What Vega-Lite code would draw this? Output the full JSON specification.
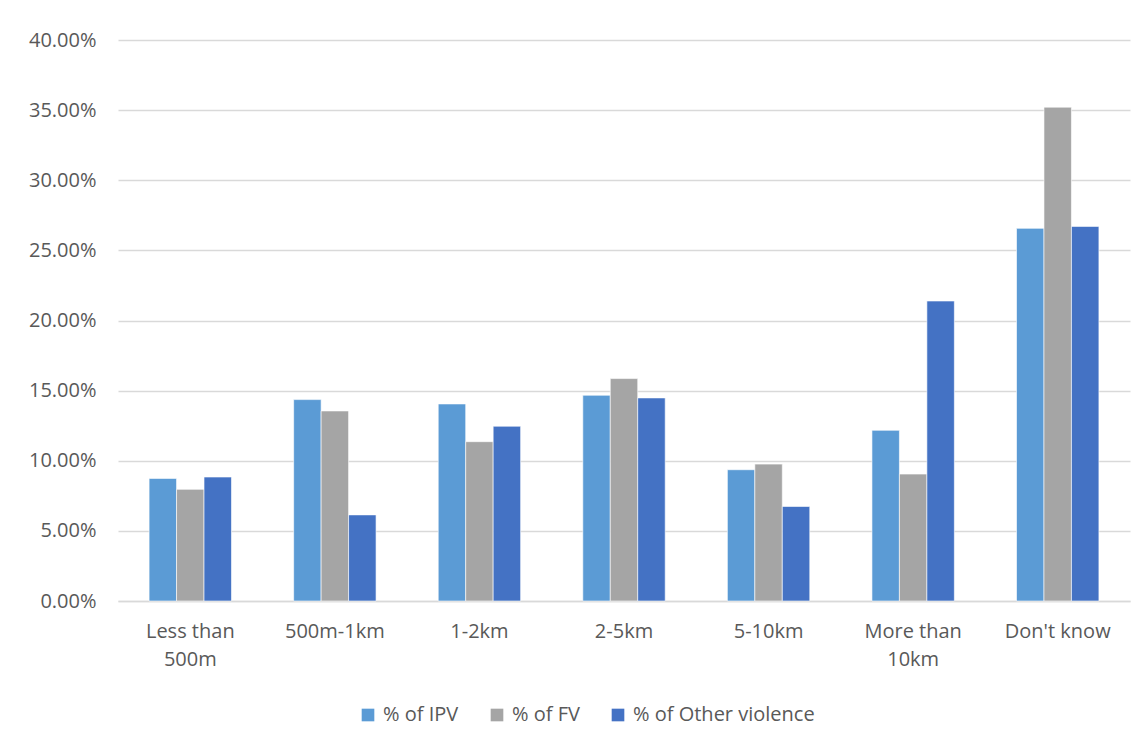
{
  "$schema": "https://vega.github.io/schema/vega-lite/v6.json",
  "width": 1012,
  "height": 561,
  "autosize": {"type": "none"},
  "padding": {"left": 118, "top": 40, "right": 17, "bottom": 146},
  "background": "white",
  "config": {
    "font": "Open Sans",
    "view": {"stroke": null},
    "axis": {
      "labelFont": "Open Sans",
      "labelFontSize": 20,
      "labelColor": "#595959",
      "titleColor": "#595959"
    },
    "legend": {"labelFont": "Open Sans", "labelFontSize": 20, "labelColor": "#595959", "labelLimit": 400}
  },
  "data": {
    "values": [
      {"distance": "Less than 500m", "series": "% of IPV", "share": 0.0874},
      {"distance": "Less than 500m", "series": "% of FV", "share": 0.0796},
      {"distance": "Less than 500m", "series": "% of Other violence", "share": 0.0884},
      {"distance": "500m-1km", "series": "% of IPV", "share": 0.1436},
      {"distance": "500m-1km", "series": "% of FV", "share": 0.1355},
      {"distance": "500m-1km", "series": "% of Other violence", "share": 0.0614},
      {"distance": "1-2km", "series": "% of IPV", "share": 0.1405},
      {"distance": "1-2km", "series": "% of FV", "share": 0.1136},
      {"distance": "1-2km", "series": "% of Other violence", "share": 0.1246},
      {"distance": "2-5km", "series": "% of IPV", "share": 0.1467},
      {"distance": "2-5km", "series": "% of FV", "share": 0.1586},
      {"distance": "2-5km", "series": "% of Other violence", "share": 0.1448},
      {"distance": "5-10km", "series": "% of IPV", "share": 0.0936},
      {"distance": "5-10km", "series": "% of FV", "share": 0.0976},
      {"distance": "5-10km", "series": "% of Other violence", "share": 0.0674},
      {"distance": "More than 10km", "series": "% of IPV", "share": 0.1217},
      {"distance": "More than 10km", "series": "% of FV", "share": 0.0905},
      {"distance": "More than 10km", "series": "% of Other violence", "share": 0.2139},
      {"distance": "Don't know", "series": "% of IPV", "share": 0.2657},
      {"distance": "Don't know", "series": "% of FV", "share": 0.3521},
      {"distance": "Don't know", "series": "% of Other violence", "share": 0.2671}
    ]
  },
  "mark": {"type": "bar", "stroke": "white", "strokeOpacity": 0.6, "strokeWidth": 1},
  "encoding": {
    "x": {
      "field": "distance",
      "type": "nominal",
      "sort": null,
      "scale": {"paddingInner": 0.43, "paddingOuter": 0.215},
      "axis": {
        "title": null,
        "labelAngle": 0,
        "ticks": false,
        "domainColor": "#d9d9d9",
        "domainWidth": 1.5,
        "labelPadding": 20,
        "labelLineHeight": 28,
        "labelExpr": "datum.value == 'Less than 500m' ? ['Less than', '500m'] : datum.value == 'More than 10km' ? ['More than', '10km'] : datum.value"
      }
    },
    "xOffset": {
      "field": "series",
      "type": "nominal",
      "sort": ["% of IPV", "% of FV", "% of Other violence"]
    },
    "y": {
      "field": "share",
      "type": "quantitative",
      "scale": {"domain": [0, 0.4], "nice": false},
      "axis": {
        "title": null,
        "format": ".2%",
        "values": [0, 0.05, 0.1, 0.15, 0.2, 0.25, 0.3, 0.35, 0.4],
        "domain": false,
        "ticks": false,
        "labelPadding": 22,
        "gridColor": "#d9d9d9",
        "gridWidth": 1.5
      }
    },
    "color": {
      "field": "series",
      "type": "nominal",
      "sort": ["% of IPV", "% of FV", "% of Other violence"],
      "scale": {
        "domain": ["% of IPV", "% of FV", "% of Other violence"],
        "range": ["#5b9bd5", "#a5a5a5", "#4472c4"]
      },
      "legend": {
        "title": null,
        "orient": "none",
        "legendX": 240,
        "legendY": 665,
        "direction": "horizontal",
        "symbolType": "square",
        "symbolSize": 160,
        "symbolStrokeWidth": 0,
        "labelOffset": 5,
        "columnPadding": 28
      }
    }
  }
}
